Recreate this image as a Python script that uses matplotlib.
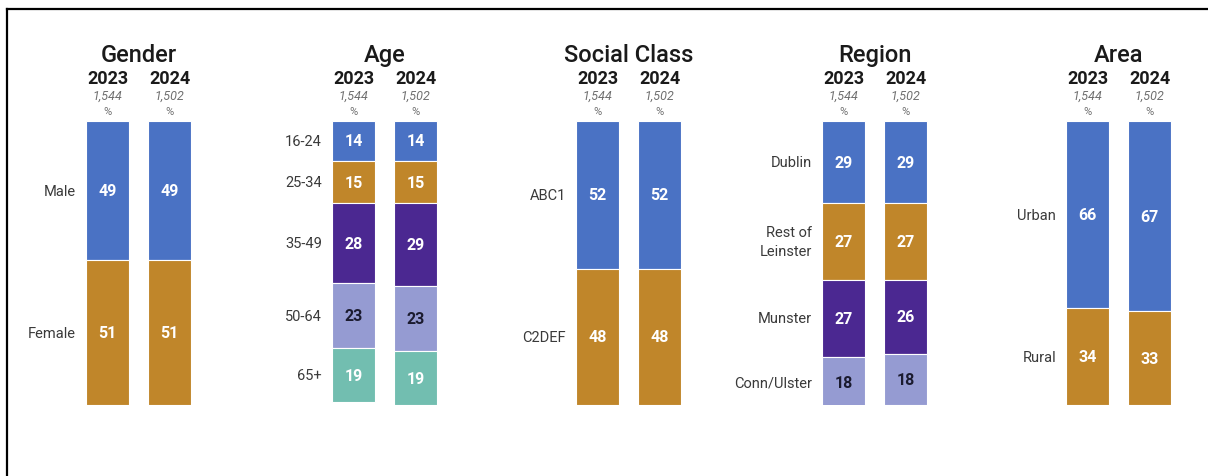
import matplotlib.pyplot as plt
from matplotlib.lines import Line2D

plt.rcParams['font.family'] = ['Roboto', 'DejaVu Sans']

# sample profile, 2023 vs 2024
years = ["2023", "2024"]
bases = ["1,544", "1,502"]

gender_cats = ["Male", "Female"]
gender_2023 = [49, 51]
gender_2024 = [49, 51]

age_cats = ["16-24", "25-34", "35-49", "50-64", "65+"]
age_2023 = [14, 15, 28, 23, 19]
age_2024 = [14, 15, 29, 23, 19]

class_cats = ["ABC1", "C2DEF"]
class_2023 = [52, 48]
class_2024 = [52, 48]

region_cats = ["Dublin", "Rest of\nLeinster", "Munster", "Conn/Ulster"]
region_2023 = [29, 27, 27, 18]
region_2024 = [29, 27, 26, 18]

area_cats = ["Urban", "Rural"]
area_2023 = [66, 34]
area_2024 = [67, 33]

BLUE = "#4A72C4"
GOLD = "#C0862A"
PURPLE = "#4B2891"
LAVENDER = "#959BD2"
TEAL = "#72BEB0"
palette = [BLUE, GOLD, PURPLE, LAVENDER, TEAL]

panels = [
    ("Gender", gender_cats, gender_2023, gender_2024, 107.5),
    ("Age", age_cats, age_2023, age_2024, 353.5),
    ("Social Class", class_cats, class_2023, class_2024, 597.5),
    ("Region", region_cats, region_2023, region_2024, 843.5),
    ("Area", area_cats, area_2023, area_2024, 1087.5),
]

W, H = 1208, 477
fig = plt.figure(figsize=(W / 100, H / 100), dpi=100)
fig.patch.set_facecolor("white")

bar_top, bar_bot = 122, 406
step = 62          # px between the two bar centres
bar_w = 43 / step  # bar width in data units


def py(p):
    # pixel row above the bars -> data units (0 at top of bar, 100 at bottom)
    return (p - bar_top) / (bar_bot - bar_top) * 100


for title, cats, v23, v24, cx in panels:
    left = cx - step / 2
    ax = fig.add_axes([left / W, 1 - bar_bot / H, 2 * step / W, (bar_bot - bar_top) / H])
    ax.set_xlim(-0.5, 1.5)
    ax.set_ylim(100, 0)
    ax.axis("off")

    for xi, vals in enumerate([v23, v24]):
        bottom = 0
        for k, v in enumerate(vals):
            col = palette[k]
            ax.bar(xi, v, bottom=bottom, width=bar_w, color=col,
                   edgecolor="white", linewidth=0.8)
            tc = "#1b1b2f" if col == LAVENDER else "white"
            ax.text(xi, bottom + v / 2, str(v), ha="center", va="center",
                    fontsize=11.5, fontweight="bold", color=tc)
            if xi == 0:
                ax.text(-bar_w / 2 - 0.16, bottom + v / 2, cats[k], ha="right",
                        va="center", fontsize=10.5, color="#3a3a3a",
                        linespacing=1.5, clip_on=False)
            bottom += v

    ax.text(0.5, py(56), title, ha="center", va="center", fontsize=17,
            fontweight="medium", color="#1a1a1a", clip_on=False)
    for xi in range(2):
        ax.text(xi, py(79), years[xi], ha="center", va="center", fontsize=13,
                fontweight="bold", color="#1a1a1a", clip_on=False)
        ax.text(xi, py(96), bases[xi], ha="center", va="center", fontsize=9,
                style="italic", color="#707070", clip_on=False)
        ax.text(xi, py(112), "%", ha="center", va="center", fontsize=8,
                color="#707070", clip_on=False)

# frame along top and left edge
fig.add_artist(Line2D([7 / W, 1], [1 - 10 / H, 1 - 10 / H], color="black", lw=1.6))
fig.add_artist(Line2D([7 / W, 7 / W], [1 - 10 / H, 0], color="black", lw=1.6))

fig.savefig("out.png", dpi=100)
